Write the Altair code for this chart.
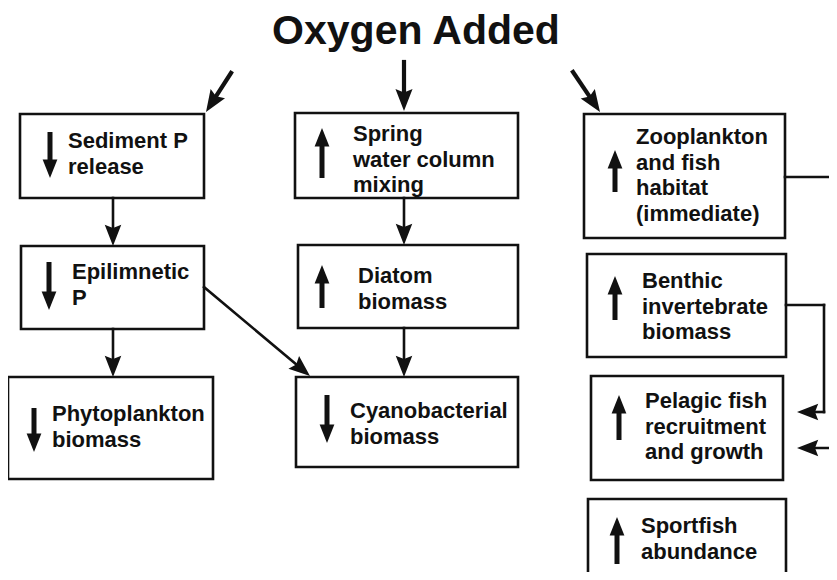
import altair as alt
import pandas as pd
import numpy as np

# ---------------- data (pixel coordinates) ----------------
title_text = "Oxygen Added"
title_pos = [416, 44]

box_left   = [20, 21, 8, 295, 298, 296, 584, 587, 591, 588]
box_top    = [114, 246, 377, 113, 245, 377, 114, 254, 376, 499]
box_right  = [204, 204, 213, 518, 518, 518, 785, 786, 783, 786]
box_bottom = [198, 329, 479, 198, 328, 467, 238, 357, 480, 578]

box_lines = [
    ["Sediment P", "release"],
    ["Epilimnetic", "P"],
    ["Phytoplankton", "biomass"],
    ["Spring", "water column", "mixing"],
    ["Diatom", "biomass"],
    ["Cyanobacterial", "biomass"],
    ["Zooplankton", "and fish", "habitat", "(immediate)"],
    ["Benthic", "invertebrate", "biomass"],
    ["Pelagic fish", "recruitment", "and growth"],
    ["Sportfish", "abundance"],
]
text_x  = [68, 72, 52, 353, 358, 350, 636, 642, 645, 641]
text_y0 = [140, 271, 413, 133, 275, 410, 136, 280, 400, 525]
line_gap = 25.5

trend        = ["down", "down", "down", "up", "up", "down", "up", "up", "up", "up"]
trend_x      = [50, 49, 34, 322, 322, 327, 615, 615, 619, 617]
trend_top    = [132, 262, 408, 128, 265, 395, 150, 276, 395, 517]
trend_bottom = [178, 310, 452, 178, 308, 443, 192, 320, 440, 564]

# arrows from the title (heavier) and flow connectors; arrow head at the last point
title_arrows = [
    [(231, 73), (206, 112)],
    [(404, 62), (404, 111)],
    [(573, 72), (600, 112)],
]
flow_arrows = [
    [(113, 198), (113, 246)],
    [(113, 329), (113, 377)],
    [(404, 198), (404, 245)],
    [(404, 328), (404, 377)],
    [(204, 287), (310, 376)],
    [(785, 177), (845, 177), (845, 448), (797, 448)],
    [(786, 305), (824, 305), (824, 412), (797, 412)],
]

# ---------------- build tables ----------------
W, H = 821, 564
OX, OY = 8, 8
xs = alt.Scale(domain=[OX, OX + W])
ys = alt.Scale(domain=[OY, OY + H], reverse=True)
INK = "#111111"
FONT = "Liberation Sans"
HEAD = "M0,0L0.78,2L0,1.7L-0.78,2Z"
THEAD = "M0,0L0.8,2L-0.8,2Z"


def angle_of(p, q):
    dx, dy = q[0] - p[0], q[1] - p[1]
    return float(np.degrees(np.arctan2(dx, -dy)) % 360)


def arrow_tables(arrow_list, back):
    seg_rows, head_rows = [], []
    for pts in arrow_list:
        for i in range(len(pts) - 1):
            a, b = pts[i], pts[i + 1]
            if i == len(pts) - 2:
                d = np.array(b, float) - np.array(a, float)
                d /= np.linalg.norm(d)
                b = (b[0] - d[0] * back, b[1] - d[1] * back)
            seg_rows.append({"x": a[0], "y": a[1], "x2": b[0], "y2": b[1]})
        head_rows.append({"x": pts[-1][0], "y": pts[-1][1], "angle": angle_of(pts[-2], pts[-1])})
    return pd.DataFrame(seg_rows), pd.DataFrame(head_rows)


boxes = pd.DataFrame({"x1": box_left, "x2": box_right, "y1": box_top, "y2": box_bottom})

txt_rows = []
for lines, tx, ty in zip(box_lines, text_x, text_y0):
    for i, s in enumerate(lines):
        txt_rows.append({"x": tx, "y": ty + i * line_gap + 1, "t": s})
texts = pd.DataFrame(txt_rows)

tsegA, theadA = arrow_tables(title_arrows, 14)
fsegA, fheadA = arrow_tables(flow_arrows, 14)

t_seg, t_head = [], []
for d, x, t0, t1 in zip(trend, trend_x, trend_top, trend_bottom):
    if d == "up":
        t_seg.append({"x": x, "y": t1, "x2": x, "y2": t0 + 12})
        t_head.append({"x": x, "y": t0, "angle": 0.0})
    else:
        t_seg.append({"x": x, "y": t0, "x2": x, "y2": t1 - 12})
        t_head.append({"x": x, "y": t1, "angle": 180.0})
tsegs = pd.DataFrame(t_seg)
theads = pd.DataFrame(t_head)

title_df = pd.DataFrame({"x": [title_pos[0]], "y": [title_pos[1]], "t": [title_text]})

X = lambda f: alt.X(f, scale=xs, axis=None)
Y = lambda f: alt.Y(f, scale=ys, axis=None)


def seg_layer(df, w):
    return alt.Chart(df).mark_rule(color=INK, strokeWidth=w, strokeCap="square").encode(
        x=X("x:Q"), y=Y("y:Q"), x2="x2:Q", y2="y2:Q")


def head_layer(df, shape, size):
    return alt.Chart(df).mark_point(shape=shape, filled=True, color=INK, opacity=1, size=size,
                                    strokeWidth=0).encode(
        x=X("x:Q"), y=Y("y:Q"), angle=alt.Angle("angle:Q", scale=None))


box_layer = alt.Chart(boxes).mark_rect(fill="white", stroke=INK, strokeWidth=2.6).encode(
    x=X("x1:Q"), x2="x2:Q", y=Y("y1:Q"), y2="y2:Q")

tseg_layer = alt.Chart(tsegs).mark_rule(color=INK, strokeWidth=5).encode(
    x=X("x:Q"), y=Y("y:Q"), x2="x2:Q", y2="y2:Q")

text_layer = alt.Chart(texts).mark_text(align="left", baseline="middle", font=FONT, fontSize=22,
                                        fontWeight="bold", color=INK).encode(
    x=X("x:Q"), y=Y("y:Q"), text="t:N")

title_layer = alt.Chart(title_df).mark_text(align="center", baseline="alphabetic", font=FONT, fontSize=41,
                                            fontWeight="bold", color=INK).encode(
    x=X("x:Q"), y=Y("y:Q"), text="t:N")

chart = alt.layer(
    box_layer,
    seg_layer(tsegA, 4.2), head_layer(theadA, HEAD, 480),
    seg_layer(fsegA, 2.6), head_layer(fheadA, HEAD, 450),
    tseg_layer, head_layer(theads, THEAD, 340),
    text_layer, title_layer,
).properties(
    width=W, height=H, padding=0, autosize=alt.AutoSizeParams(type="none"), background="white"
).configure_view(stroke=None)

chart.save("out.html", embed_options={"renderer": "svg", "actions": False})
